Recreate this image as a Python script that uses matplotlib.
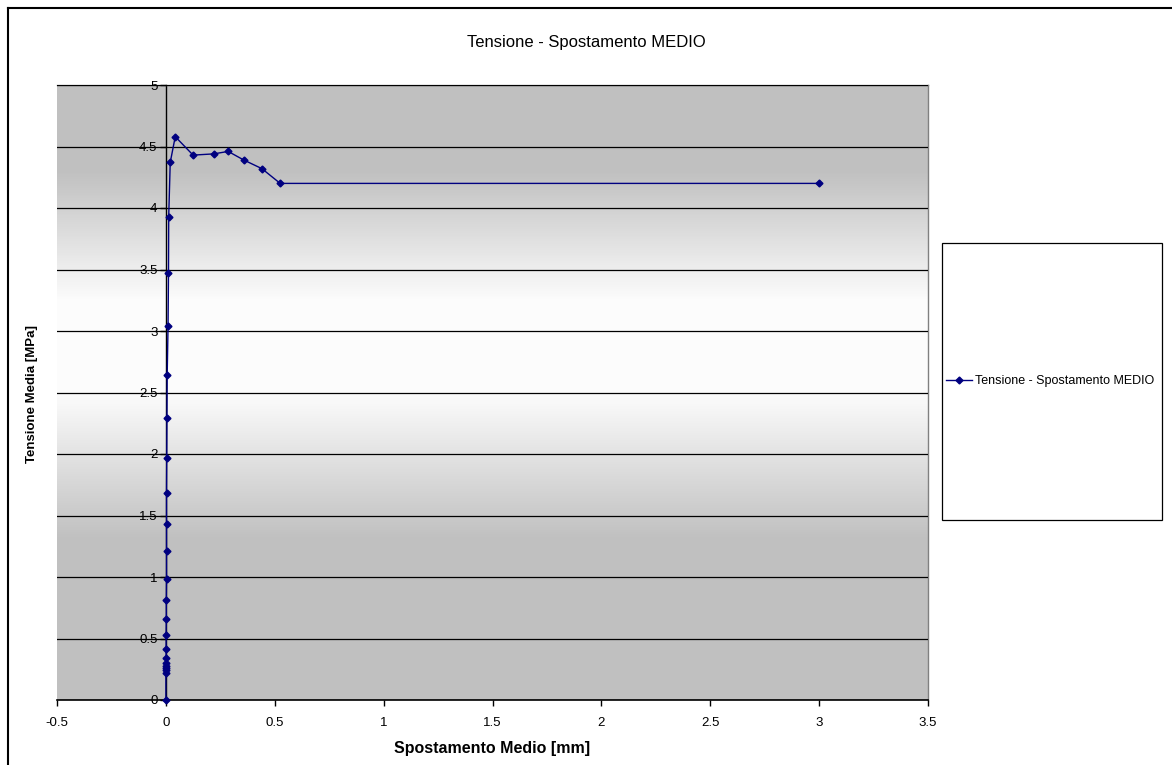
import numpy as np
import matplotlib
matplotlib.use("Agg")
import matplotlib.pyplot as plt
from matplotlib.patches import Rectangle
from matplotlib.lines import Line2D
from matplotlib.colors import LinearSegmentedColormap

plt.rcParams['font.family'] = ['Liberation Sans', 'DejaVu Sans']

# Data
spostamento = [0.0, 0.0, 0.0, 0.0, 0.0, 0.001, 0.001, 0.001, 0.001, 0.002,
               0.002, 0.003, 0.003, 0.003, 0.003, 0.004, 0.005, 0.006, 0.010,
               0.012, 0.013, 0.020, 0.043, 0.125, 0.220, 0.286, 0.358, 0.441,
               0.525, 3.0]
tensione = [0.0, 0.22, 0.24, 0.26, 0.28, 0.30, 0.345, 0.415, 0.53, 0.66,
            0.81, 0.98, 1.21, 1.43, 1.68, 1.965, 2.29, 2.64, 3.04,
            3.47, 3.93, 4.37, 4.58, 4.43, 4.44, 4.46, 4.39, 4.32,
            4.20, 4.20]
series_name = "Tensione - Spostamento MEDIO"
title = "Tensione - Spostamento MEDIO"
xlabel = "Spostamento Medio [mm]"
ylabel = "Tensione Media [MPa]"
xticks = [-0.5, 0, 0.5, 1, 1.5, 2, 2.5, 3, 3.5]
yticks = [0, 0.5, 1, 1.5, 2, 2.5, 3, 3.5, 4, 4.5, 5]

W, H = 1172, 765
fig = plt.figure(figsize=(W / 100, H / 100), dpi=100)
fig.patch.set_facecolor('white')

# outer chart border (top and left visible)
fig.add_artist(Line2D([8 / W, 1], [1 - 8 / H, 1 - 8 / H], color='black', lw=1.5, transform=fig.transFigure))
fig.add_artist(Line2D([8 / W, 8 / W], [0, 1 - 8 / H], color='black', lw=1.5, transform=fig.transFigure))

left, right, top, bottom = 57, 928, 85, 700
ax = fig.add_axes([left / W, 1 - bottom / H, (right - left) / W, (bottom - top) / H])

# gradient background
g0 = 0.753
cmap = LinearSegmentedColormap.from_list('bg', [
    (0.0, (g0, g0, g0)), (0.26, (g0, g0, g0)), (0.50, (0.99, 0.99, 0.99)),
    (0.65, (0.99, 0.99, 0.99)), (0.862, (g0, g0, g0)), (1.0, (g0, g0, g0))])
grad = np.linspace(0, 1, 512).reshape(-1, 1)
ax.imshow(grad, cmap=cmap, aspect='auto', extent=[0, 1, 0, 1], origin='lower',
          transform=ax.transAxes, zorder=0, interpolation='bilinear')

ax.set_xlim(-0.5, 3.5)
ax.set_ylim(0, 5)
ax.set_xticks(xticks)
ax.set_yticks(yticks)
ax.set_xticklabels([f"{t:g}" for t in xticks])
ax.set_yticklabels([f"{t:g}" for t in yticks])
ax.yaxis.grid(True, color='black', lw=0.9, zorder=1)
ax.set_axisbelow(False)

ax.spines['left'].set_position(('data', 0))
ax.spines['left'].set_color('black')
ax.spines['left'].set_linewidth(1.0)
ax.spines['bottom'].set_color('black')
ax.spines['bottom'].set_linewidth(1.2)
ax.spines['top'].set_color('#808080')
ax.spines['right'].set_color('#808080')
ax.spines['top'].set_linewidth(1.0)
ax.spines['right'].set_linewidth(1.0)
ax.tick_params(axis='both', direction='out', length=4, width=1, labelsize=9.5, colors='black', pad=2)
ax.tick_params(axis='x', pad=8)

ax.plot(spostamento, tensione, color='#000080', lw=1.0, marker='D', markersize=3.5,
        markerfacecolor='#000080', markeredgecolor='#000080', zorder=3, clip_on=False,
        label=series_name)

fig.text(586 / W, 1 - 42 / H, title, ha='center', va='center', fontsize=12)
fig.text(492 / W, 1 - 748 / H, xlabel, ha='center', va='center', fontsize=11.5, fontweight='bold')
fig.text(32 / W, 1 - 394 / H, ylabel, ha='center', va='center', fontsize=9.5, fontweight='bold', rotation=90)

# legend box
fig.add_artist(Rectangle((942 / W, 1 - 520 / H), 220 / W, 277 / H, transform=fig.transFigure,
                         facecolor='white', edgecolor='black', lw=0.9))
handles, labels = ax.get_legend_handles_labels()
leg = fig.legend(handles, labels, loc='center left', bbox_to_anchor=(946 / W, 1 - 381 / H),
                 frameon=False, fontsize=9, handlelength=2.1, handletextpad=0.2, borderpad=0,
                 borderaxespad=0)
for l in leg.get_lines():
    l.set_markersize(3.5)

fig.savefig('out.png', dpi=100)
